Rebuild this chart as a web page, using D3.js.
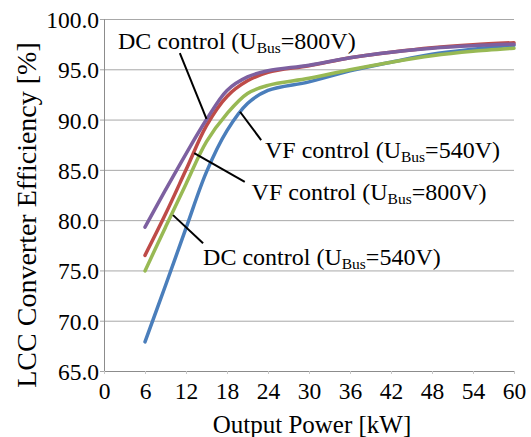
<!DOCTYPE html>
<html>
<head>
<meta charset="utf-8">
<script src="https://cdn.jsdelivr.net/npm/d3@7"></script>
<style>
  body { margin:0; background:#fff; }
</style>
</head>
<body>
<svg id="chart" width="531" height="437"></svg>
<script>
// output power [kW]
var power = [6, 9, 12, 15, 18, 21, 24, 30, 36, 42, 48, 54, 60];
// efficiency [%]
var vf540 = [67.9, 73.5, 79.2, 84.8, 88.9, 91.6, 92.9, 93.75, 94.85, 95.7, 96.5, 97.0, 97.4];
var vf800 = [76.5, 80.6, 85.0, 89.4, 92.3, 93.85, 94.7, 95.35, 96.15, 96.7, 97.15, 97.45, 97.65];
var dc540 = [74.95, 79.3, 83.6, 87.8, 90.6, 92.6, 93.4, 94.1, 94.95, 95.7, 96.35, 96.8, 97.1];
var dc800 = [79.3, 83.0, 86.6, 90.0, 92.9, 94.25, 94.85, 95.4, 96.15, 96.7, 97.1, 97.35, 97.5];

var xTicks = [0, 6, 12, 18, 24, 30, 36, 42, 48, 54, 60];
var yTicks = [65, 70, 75, 80, 85, 90, 95, 100];

// annotations: label pos, leader start, leader end (data coords)
var notes = [
  {ctrl:"DC control (U", v:"=800V)", tx:2.05, ty:97.0, x1:11.1, y1:96.6, x2:15.0, y2:90.07},
  {ctrl:"VF control (U", v:"=540V)", tx:23.56, ty:86.17, x1:23.0, y1:87.96, x2:19.9, y2:90.78},
  {ctrl:"VF control (U", v:"=800V)", tx:21.6, ty:82.0, x1:20.6, y1:83.8, x2:13.2, y2:86.67},
  {ctrl:"DC control (U", v:"=540V)", tx:14.5, ty:75.5, x1:14.5, y1:77.7, x2:10.1, y2:80.5}
];

var series = [
  {vals:vf540, color:"#4a7ebb"},
  {vals:vf800, color:"#be4b48"},
  {vals:dc540, color:"#98b954"},
  {vals:dc800, color:"#7d60a0"}
];

var serif = "'Liberation Serif', 'Times New Roman', serif";
var svg = d3.select("#chart");
var mLeft = 104, mRight = 514, mTop = 19, mBottom = 371;

var x = d3.scaleLinear().domain([0, 60]).range([mLeft, mRight]);
var y = d3.scaleLinear().domain([65, 100]).range([mBottom, mTop]);

// gridlines
svg.append("g")
  .attr("transform", "translate(" + mLeft + ",0)")
  .call(d3.axisLeft(y).tickValues(yTicks).tickSize(-(mRight - mLeft)).tickFormat(""))
  .call(function(g){
    g.select(".domain").remove();
    g.selectAll("line").attr("stroke", "#a8a8a8");
  });

// y axis
svg.append("g")
  .attr("transform", "translate(" + mLeft + ",0)")
  .call(d3.axisLeft(y).tickValues(yTicks).tickSize(4).tickPadding(1).tickFormat(d3.format(".1f")))
  .call(function(g){
    g.select(".domain").attr("stroke", "#8c8c8c");
    g.selectAll("line").attr("stroke", "#a8a8a8");
    g.selectAll("text").style("font-family", serif).style("font-size", "23.5px").attr("fill", "#000").attr("dy", "0.36em");
  });

// x axis
svg.append("g")
  .attr("transform", "translate(0," + mBottom + ")")
  .call(d3.axisBottom(x).tickValues(xTicks).tickSize(3).tickPadding(8))
  .call(function(g){
    g.select(".domain").attr("stroke", "#8c8c8c");
    g.selectAll("line").attr("stroke", "#c8c8c8");
    g.selectAll("text").style("font-family", serif).style("font-size", "23.5px").attr("fill", "#000");
  });

var line = d3.line()
  .x(function(d, i){ return x(power[i]); })
  .y(function(d){ return y(d); })
  .curve(d3.curveCatmullRom.alpha(0.5));

svg.selectAll("path.series")
  .data(series)
  .enter().append("path")
  .attr("class", "series")
  .attr("fill", "none")
  .attr("stroke", function(d){ return d.color; })
  .attr("stroke-width", 3.5)
  .attr("stroke-linecap", "round")
  .attr("d", function(d){ return line(d.vals); });

// leaders
svg.selectAll("line.leader")
  .data(notes)
  .enter().append("line")
  .attr("class", "leader")
  .attr("x1", function(d){ return x(d.x1); })
  .attr("y1", function(d){ return y(d.y1); })
  .attr("x2", function(d){ return x(d.x2); })
  .attr("y2", function(d){ return y(d.y2); })
  .attr("stroke", "#000")
  .attr("stroke-width", 2);

var lab = svg.selectAll("text.note")
  .data(notes)
  .enter().append("text")
  .attr("class", "note")
  .attr("x", function(d){ return x(d.tx); })
  .attr("y", function(d){ return y(d.ty); })
  .style("font-family", serif)
  .style("font-size", "24px");
lab.append("tspan").text(function(d){ return d.ctrl; });
lab.append("tspan").attr("dy", 4).style("font-size", "15.5px").text("Bus");
lab.append("tspan").attr("dy", -4).text(function(d){ return d.v; });

// axis titles
svg.append("text")
  .attr("x", (mLeft + mRight) / 2 + 3)
  .attr("y", 433)
  .attr("text-anchor", "middle")
  .style("font-family", serif)
  .style("font-size", "25px")
  .text("Output Power [kW]");

svg.append("text")
  .attr("transform", "translate(36,215)rotate(-90)")
  .attr("text-anchor", "middle")
  .style("font-family", serif)
  .style("font-size", "28px")
  .text("LCC Converter Efficiency [%]");
</script>
</body>
</html>
